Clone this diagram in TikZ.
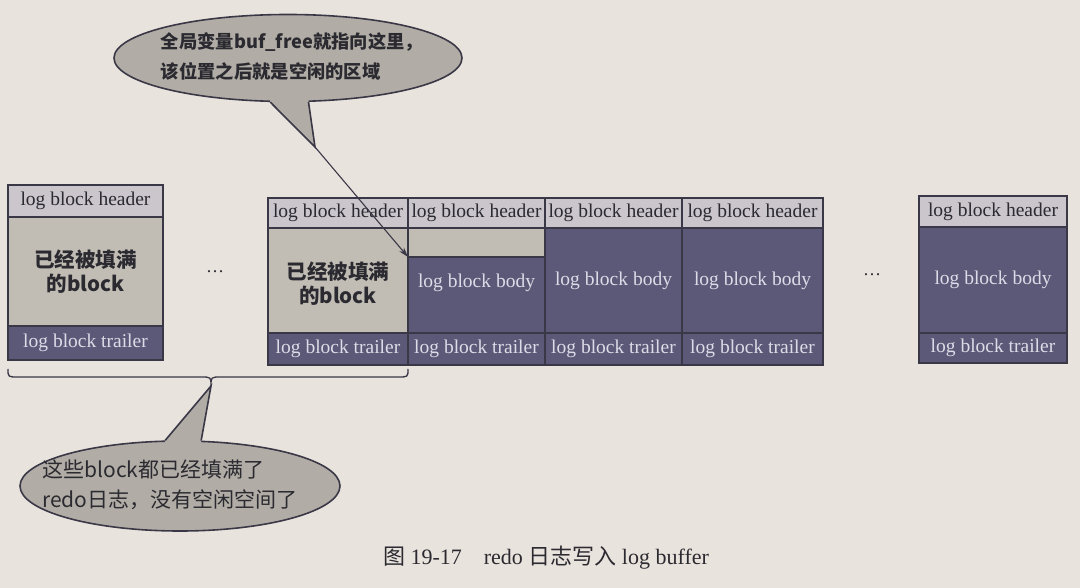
\documentclass[tikz,border=0pt]{standalone}
\usepackage{fontspec}
\setmainfont{Liberation Serif}
\newfontfamily\cjk{Noto Sans CJK SC}
\usetikzlibrary{shapes.geometric,arrows.meta,calc}
\definecolor{paper}{HTML}{E9E3DD}
\definecolor{hdrfill}{HTML}{CAC6CC}
\definecolor{fullfill}{HTML}{C1BDB5}
\definecolor{darkfill}{HTML}{5C5978}
\definecolor{edgecol}{HTML}{3A3846}
\definecolor{inktext}{HTML}{2B2A30}
\definecolor{lighttext}{HTML}{DEDBE8}
\definecolor{bubblefill}{HTML}{B1ADA6}
\newcommand{\mkcell}[7]{%
  \node[#2, minimum width={#5-#3}, minimum height={#6-#4}] (#1) at ({(#3+#5)/2},{(#4+#6)/2}) {#7};}
\begin{document}
\begin{tikzpicture}[x=1pt,y=-1pt,
  cellbase/.style={draw=edgecol, line width=1.5pt, inner sep=0pt, outer sep=0pt,
    font=\fontsize{19.5}{21}\selectfont},
  hdr/.style={cellbase, fill=hdrfill, text=inktext},
  full/.style={cellbase, fill=fullfill, text=inktext, align=center},
  dark/.style={cellbase, fill=darkfill, text=lighttext},
  fulltxt/.style={font=\cjk\bfseries\fontsize{20.5}{24}\selectfont, text=inktext, align=center},
  bodytxt/.style={font=\fontsize{19.5}{21}\selectfont, text=lighttext},
  dots/.style={font=\fontsize{18}{20}\selectfont, text=inktext},
  bubble/.style={ellipse, draw=edgecol, line width=1.6pt, fill=bubblefill, inner sep=0pt},
  bubbletxt/.style={text=inktext, align=left, inner sep=0pt},
  tailfill/.style={fill=bubblefill},
  tailline/.style={draw=edgecol, line width=1.6pt, line join=miter},
  bracestyle/.style={draw=edgecol, line width=1.3pt},
  pointer/.style={draw=edgecol, line width=1.1pt, -{Stealth[length=10pt,width=6pt]}},
  caption/.style={font=\fontsize{22}{26}\selectfont, text=inktext}
]
\fill[paper] (0,0) rectangle (1080,588);
\useasboundingbox (0,0) rectangle (1080,588);

% left filled block
\mkcell{lh}{hdr}{8}{185}{163}{217}{log block header}
\mkcell{lb}{full}{8}{217}{163}{326}{}
\mkcell{lt}{dark}{8}{326}{163}{360}{log block trailer}
\node[fulltxt] (lbtxt) at (lb.center) {已经被填满\\的block};

\node[dots] (d1) at (215,272) {…};

% middle group
\mkcell{h1}{hdr}{268}{198}{408}{228}{log block header}
\mkcell{h2}{hdr}{408}{198}{545}{228}{log block header}
\mkcell{h3}{hdr}{545}{198}{682}{228}{log block header}
\mkcell{h4}{hdr}{682}{198}{823}{228}{log block header}

\mkcell{b1}{full}{268}{228}{408}{333}{}
\node[fulltxt] (b1txt) at (338,284) {已经被填满\\的block};
\mkcell{s2}{full}{408}{228}{545}{257}{}
\mkcell{b2}{dark}{408}{257}{545}{333}{}
\node[bodytxt] (b2txt) at (476.5,283) {log block body};
\mkcell{b3}{dark}{545}{228}{682}{333}{log block body}
\mkcell{b4}{dark}{682}{228}{823}{333}{log block body}

\mkcell{t1c}{dark}{268}{333}{408}{365}{log block trailer}
\mkcell{t2c}{dark}{408}{333}{545}{365}{log block trailer}
\mkcell{t3c}{dark}{545}{333}{682}{365}{log block trailer}
\mkcell{t4c}{dark}{682}{333}{823}{365}{log block trailer}

\node[dots] (d2) at (872,275) {…};

% right block
\mkcell{rh}{hdr}{919}{196}{1067}{227}{log block header}
\mkcell{rb}{dark}{919}{227}{1067}{333}{log block body}
\mkcell{rt}{dark}{919}{333}{1067}{363}{log block trailer}

% callout 1
\node[bubble, minimum width=348pt, minimum height=87pt] (c1) at (288,58) {};
\coordinate (tip1) at (315,147);
\fill[tailfill] (c1.248) -- (tip1) -- (c1.295.5) -- ($(c1.295.5)+(0,-6)$) -- ($(c1.248)+(0,-6)$) -- cycle;
\draw[tailline] (c1.248) -- (tip1) -- (c1.295.5);
\node[bubbletxt, font=\cjk\bfseries\fontsize{18.3}{30}\selectfont] (c1txt) at (292,56)
  {全局变量buf\_free就指向这里，\\该位置之后就是空闲的区域};
\draw[pointer] (tip1) -- (b2.north west);

% brace
\coordinate (brl) at (8,369);
\coordinate (brr) at (408,369);
\coordinate (brt) at (211,386);
\draw[bracestyle] (brl) .. controls (8,377) .. (18,377) -- (201,377)
  .. controls (211,377) .. (brt) .. controls (211,377) .. (221,377) -- (398,377)
  .. controls (408,377) .. (brr);

% callout 2
\node[bubble, minimum width=320pt, minimum height=90pt] (c2) at (180,486) {};
\fill[tailfill] (c2.108.8) -- (brt) -- (c2.65.6) -- ($(c2.65.6)+(0,6)$) -- ($(c2.108.8)+(0,6)$) -- cycle;
\draw[tailline] (c2.108.8) -- (brt) -- (c2.65.6);
\node[bubbletxt, font=\cjk\fontsize{21}{30}\selectfont] (c2txt) at (170,485)
  {这些block都已经填满了\\redo日志，没有空闲空间了};

% caption
\node[caption] (cap) at (546,558) {{\cjk 图} 19-17\quad redo {\cjk 日志写入} log buffer};
\end{tikzpicture}
\end{document}
